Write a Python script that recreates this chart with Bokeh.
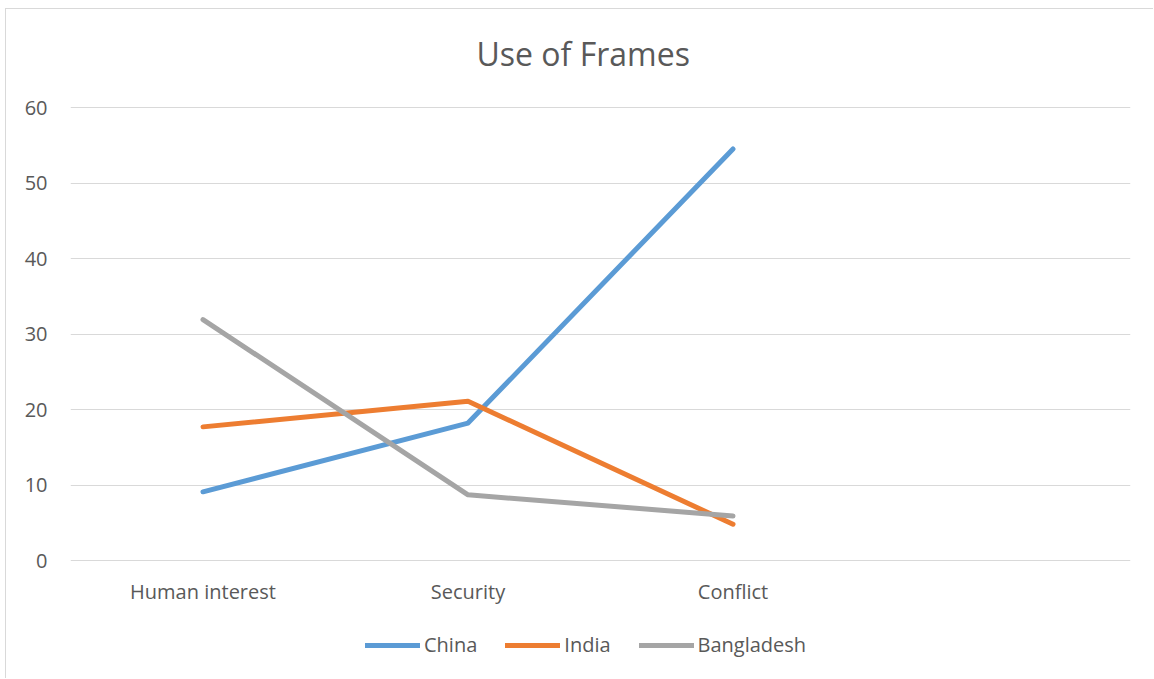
from bokeh.plotting import figure
from bokeh.models import FixedTicker, Range1d, Legend, LegendItem
from bokeh.core.properties import value
from bokeh.embed import file_html
from bokeh.resources import INLINE

categories = ["Human interest", "Security", "Conflict"]
china = [9.1, 18.2, 54.5]
india = [17.7, 21.1, 4.8]
bangladesh = [31.9, 8.7, 5.9]
y_ticks = [0, 10, 20, 30, 40, 50, 60]

xs = [i + 0.5 for i in range(len(categories))]

FONT = "Open Sans"
TXT = "#595959"

# 60 units span 453 px; frame extends 17 px above 60 and 119 px below 0
p = figure(width=1148, height=670, output_backend="svg", toolbar_location=None,
           x_range=Range1d(0, 4), y_range=Range1d(-119 / 453 * 60, 60 + 17 / 453 * 60),
           min_border_left=64, min_border_right=24, min_border_top=81, min_border_bottom=0,
           margin=(8, 0, 0, 5),
           styles={"border-left": "1px solid #d9d9d9", "border-top": "1px solid #d9d9d9"},
           x_axis_location=None, title="Use of Frames")
p.outline_line_color = None
p.background_fill_color = "white"
p.border_fill_color = "white"

p.title.align = "left"
p.title.text_font = FONT
p.title.text_font_style = "normal"
p.title.text_font_size = "32px"
p.title.text_color = TXT
p.title.standoff = 32
p.title.offset = 406

p.yaxis.ticker = FixedTicker(ticks=y_ticks)
p.xgrid.visible = False
p.ygrid.grid_line_color = "#d9d9d9"
p.ygrid.grid_line_width = 1
p.yaxis.major_tick_line_color = None
p.yaxis.minor_tick_line_color = None
p.yaxis.major_label_text_font = FONT
p.yaxis.major_label_text_font_size = "20px"
p.yaxis.major_label_text_color = TXT
p.yaxis.axis_line_color = None
p.yaxis.major_label_standoff = 17

# category labels under the zero line
p.text(x=xs, y=[0] * len(xs), text=categories, text_align="center", text_baseline="middle",
       y_offset=31, text_font=value(FONT), text_font_size="20px", text_color=TXT)

colors = ["#5B9BD5", "#ED7D31", "#A5A5A5"]
names = ["China", "India", "Bangladesh"]
items = []
for name, ys, c in zip(names, [china, india, bangladesh], colors):
    r = p.line(xs, ys, line_color=c, line_width=5, line_cap="round", line_join="round")
    items.append(LegendItem(label=name, renderers=[r]))

legend = Legend(items=items, orientation="horizontal", location=(295, 21),
                label_text_font=FONT, label_text_font_size="20px", label_text_color=TXT,
                glyph_width=55, label_standoff=4, spacing=28, border_line_color=None,
                background_fill_alpha=0, padding=0, margin=0)
p.add_layout(legend, "center")

open("out.html", "w").write(file_html(p, INLINE))
